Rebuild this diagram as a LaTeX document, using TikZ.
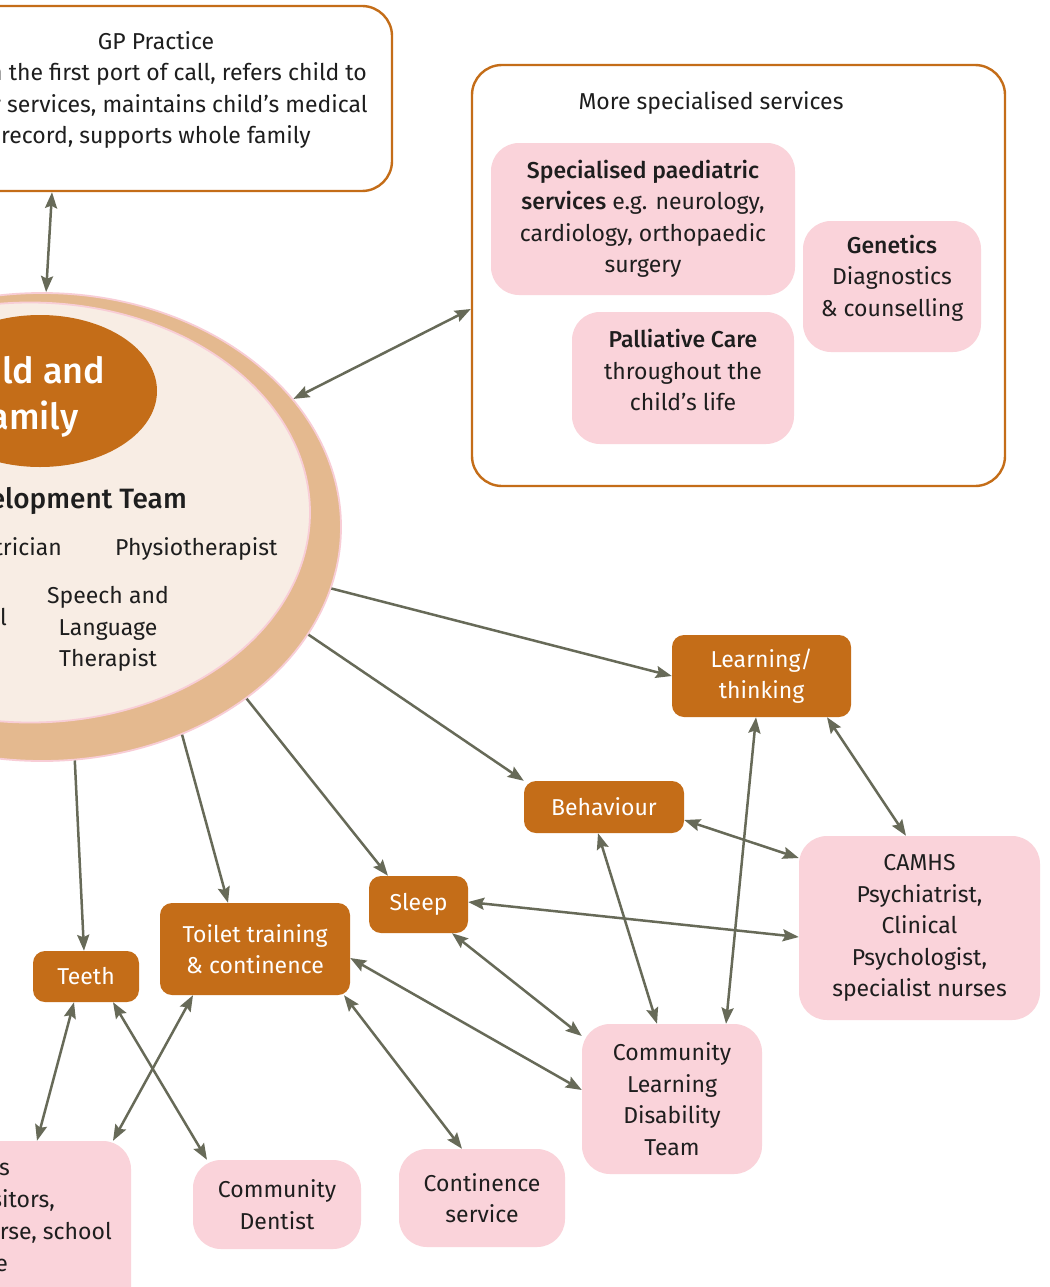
\documentclass[tikz,border=0pt]{standalone}
\usepackage{fontspec}
\setmainfont{Fira Sans}[BoldFont=* Medium]
\usetikzlibrary{shapes.geometric,arrows.meta,calc}
\definecolor{orng}{RGB}{196,109,24}
\definecolor{pnk}{RGB}{250,211,218}
\definecolor{tanring}{RGB}{228,185,143}
\definecolor{cream}{RGB}{248,237,228}
\definecolor{pinkline}{RGB}{248,205,214}
\definecolor{arr}{RGB}{103,106,88}
\definecolor{txt}{RGB}{30,30,30}
\newcommand{\bodyfont}{\fontsize{23}{31.5}\selectfont}
\newcommand{\teamfont}{\fontsize{28}{34}\selectfont\bfseries}
\newcommand{\cafont}{\fontsize{36}{46}\selectfont\bfseries}
\tikzset{hd/.tip={Stealth[length=16pt,width=12pt,inset=2.5pt]}}
\begin{document}
\begin{tikzpicture}[x=1pt,y=-1pt,
  biarrow/.style={draw=arr, line width=2.5pt, {hd}-{hd}},
  oneway/.style={draw=arr, line width=2.5pt, -{hd}},
  outerbox/.style={draw=orng, line width=2.4pt, rounded corners=30pt, fill=white, inner sep=0},
  topic/.style={fill=orng, rounded corners=12pt, text=white, font=\bodyfont, align=center, inner sep=0},
  svc/.style={fill=pnk, rounded corners=28pt, text=txt, font=\bodyfont, align=center, inner sep=0},
  lbl/.style={text=txt, font=\bodyfont, align=center, inner sep=0},
]
\useasboundingbox (0,0) rectangle (1049,1287);
\clip (0,0) rectangle (1049,1287);
\fill[white] (0,0) rectangle (1049,1287);

% GP practice
\node[outerbox, minimum width=472pt, minimum height=185pt] (gp) at (156,98.5) {};
\node[lbl] (gptext) at (156,90) {GP Practice\\Often the first port of call, refers child to\\other services, maintains child’s medical\\record, supports whole family};

% central ellipse
\node[ellipse, fill=tanring, draw=pinkline, line width=1.8pt, minimum width=598pt, minimum height=468pt, inner sep=0] (cdt) at (42,527) {};
\node[ellipse, fill=cream, draw=pinkline, line width=1.8pt, minimum width=560pt, minimum height=420pt, inner sep=0] (cdtin) at (30,512.5) {};
\node[ellipse, fill=orng, minimum width=234pt, minimum height=152pt, inner sep=0] (cf) at (40,391) {};
\node[text=white, font=\cafont, align=center, inner sep=0] (cftext) at (28,396) {Child and\\family};
\node[text=txt, font=\teamfont, inner sep=0, anchor=base east] (team) at (187,508) {Child Development Team};
\node[lbl, anchor=base east] (paedn) at (62,555) {Paediatrician};
\node[lbl, anchor=base west] (physio) at (115,555) {Physiotherapist};
\node[lbl] (salt) at (108,629) {Speech and\\Language\\Therapist};
\node[lbl, anchor=base east] (occ) at (7,625) {Occupational};

% more specialised services
\node[outerbox, minimum width=533pt, minimum height=421pt] (spec) at (738.5,275.5) {};
\node[lbl] (spectitle) at (711,103) {More specialised services};
\node[svc, minimum width=304pt, minimum height=152pt] (paed) at (643,219) {\textbf{Specialised paediatric}\\\textbf{services} e.g. neurology,\\cardiology, orthopaedic\\surgery};
\node[svc, minimum width=178pt, minimum height=131pt] (gen) at (892,286.5) {};
\node[lbl] (gentext) at (892,278) {\textbf{Genetics}\\Diagnostics\\\& counselling};
\node[svc, minimum width=222pt, minimum height=132pt] (pall) at (683,378) {};
\node[lbl] (palltext) at (683,370) {\textbf{Palliative Care}\\throughout the\\child’s life};

% topics
\node[topic, minimum width=179pt, minimum height=82pt] (learn) at (761.5,676) {Learning/\\thinking};
\node[topic, minimum width=160pt, minimum height=52pt] (beh) at (604,807) {Behaviour};
\node[topic, minimum width=99pt, minimum height=57pt] (sleep) at (418.5,904.5) {Sleep};
\node[topic, minimum width=190pt, minimum height=92pt] (toilet) at (255,949) {Toilet training\\\& continence};
\node[topic, minimum width=106pt, minimum height=51pt] (teeth) at (86,976.5) {Teeth};

% services
\node[svc, minimum width=241pt, minimum height=184pt] (camhs) at (919.5,928) {CAMHS\\Psychiatrist,\\Clinical\\Psychologist,\\specialist nurses};
\node[svc, minimum width=180pt, minimum height=150pt] (cldt) at (672,1099) {Community\\Learning\\Disability\\Team};
\node[svc, minimum width=166pt, minimum height=98pt] (cont) at (482,1198) {Continence\\service};
\node[svc, minimum width=168pt, minimum height=89pt] (dent) at (277,1204.5) {Community\\Dentist};
\node[svc, minimum width=251pt, minimum height=180pt] (nurse) at (5.5,1231) {};
\node[lbl, anchor=base east] (nl1) at (10,1175) {Nurses};
\node[lbl, anchor=base east] (nl2) at (55,1207) {Health visitors,};
\node[lbl, anchor=base east] (nl3) at (112,1239) {practice nurse, school};
\node[lbl, anchor=base east] (nl4) at (8,1271) {nurse};

% connectors
\draw[biarrow] ([xshift=-104pt]gp.south) -- (cdt.89);
\draw[biarrow] (cdt.27) -- ([yshift=-33.5pt]spec.west);
\draw[oneway] (cdt.-12) -- (learn.west);
\draw[oneway] (cdt.-22.6) -- (beh.north west);
\draw[oneway] (cdt.-40.4) -- ([xshift=-30.5pt]sleep.north);
\draw[oneway] (cdt.-56.7) -- ([xshift=-27pt]toilet.north);
\draw[oneway] (cdt.-82.5) -- ([xshift=-2pt]teeth.north);
\draw[biarrow] ([xshift=-5.5pt]learn.south) -- ([xshift=54pt]cldt.north);
\draw[biarrow] ([xshift=65.5pt]learn.south) -- ([xshift=-13.5pt]camhs.north);
\draw[biarrow] ([yshift=-13pt]beh.east) -- ([yshift=70pt]camhs.west);
\draw[biarrow] ([xshift=-6pt]beh.south) -- ([xshift=-15pt]cldt.north);
\draw[biarrow] ([yshift=2.5pt]sleep.east) -- ([yshift=-9pt]camhs.west);
\draw[biarrow] ([xshift=33.5pt]sleep.south) -- ([yshift=63pt]cldt.west);
\draw[biarrow] ([yshift=-9pt]toilet.east) -- ([yshift=9pt]cldt.west);
\draw[biarrow] ([xshift=89pt]toilet.south) -- ([xshift=-20pt]cont.north);
\draw[biarrow] ([xshift=-62pt]toilet.south) -- ([xshift=107.5pt]nurse.north);
\draw[biarrow] ([xshift=-12pt]teeth.south) -- ([xshift=31.5pt]nurse.north);
\draw[biarrow] ([xshift=27pt]teeth.south) -- ([xshift=-70pt]dent.north);
\end{tikzpicture}
\end{document}
